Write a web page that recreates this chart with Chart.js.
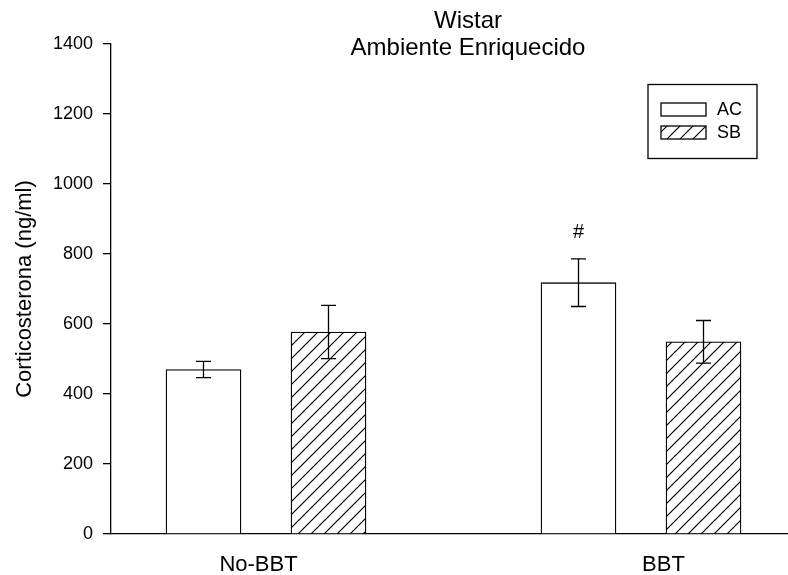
<!DOCTYPE html>
<html><head><meta charset="utf-8">
<script src="https://cdn.jsdelivr.net/npm/chart.js@4.4.1/dist/chart.umd.min.js"></script>
<style>html,body{margin:0;padding:0;background:#fff}#wrap{width:788px;height:575px}</style>
</head><body><div id="wrap"><canvas id="c" width="788" height="575"></canvas></div>
<script>
// ---- data ----
const categories = ["No-BBT", "BBT"];
const seriesNames = ["AC", "SB"];
const acValues = [470, 718];
const acErrors = [23, 68];
const sbValues = [577, 549];
const sbErrors = [76, 61];
const yTicks = [0, 200, 400, 600, 800, 1000, 1200, 1400];
const acMarks = ["", "#"];
const titleLines = ["Wistar", "Ambiente Enriquecido"];
const yTitle = "Corticosterona (ng/ml)";

// ---- layout constants ----
const FONT = "'Liberation Sans', Arial, sans-serif";
const GROUP_STEP = 3, HALF = 0.5;
const X_MIN = -1.24, X_MAX = 4.176;
const LABEL_POS = [-0.06, 3.18];

function makeHatch(step, lw) {
  const c = document.createElement('canvas');
  c.width = step; c.height = step;
  const g = c.getContext('2d');
  g.fillStyle = '#fff'; g.fillRect(0, 0, step, step);
  g.strokeStyle = '#000'; g.lineWidth = lw;
  g.beginPath();
  g.moveTo(-1, step + 1); g.lineTo(step + 1, -1);
  g.moveTo(-step / 2, step / 2); g.lineTo(step / 2, -step / 2);
  g.moveTo(step / 2, step * 1.5); g.lineTo(step * 1.5, step / 2);
  g.stroke();
  return g.createPattern(c, 'repeat');
}
const hatch = makeHatch(13, 1.2);

const errorBars = {
  id: 'errorBars',
  afterDatasetsDraw(chart) {
    const ctx = chart.ctx, ys = chart.scales.y;
    ctx.save();
    ctx.strokeStyle = '#000'; ctx.lineWidth = 1.3;
    chart.data.datasets.forEach((ds, di) => {
      const meta = chart.getDatasetMeta(di);
      meta.data.forEach((el, i) => {
        const v = ds.data[i].y, e = ds.errors[i];
        const yt = ys.getPixelForValue(v + e), yb = ys.getPixelForValue(v - e);
        ctx.beginPath();
        ctx.moveTo(el.x, yt); ctx.lineTo(el.x, yb);
        ctx.moveTo(el.x - 7.5, yt); ctx.lineTo(el.x + 7.5, yt);
        ctx.moveTo(el.x - 7.5, yb); ctx.lineTo(el.x + 7.5, yb);
        ctx.stroke();
        if (ds.marks && ds.marks[i]) {
          ctx.fillStyle = '#000';
          ctx.font = '20px ' + FONT;
          ctx.textAlign = 'center'; ctx.textBaseline = 'middle';
          ctx.fillText(ds.marks[i], el.x, yt - 26);
        }
      });
    });
    ctx.restore();
  }
};

const extras = {
  id: 'extras',
  afterDraw(chart) {
    const ctx = chart.ctx;
    ctx.save();
    ctx.fillStyle = '#000';
    ctx.font = '24px ' + FONT;
    ctx.textAlign = 'center'; ctx.textBaseline = 'alphabetic';
    ctx.fillText(titleLines[0], 468, 28);
    ctx.fillText(titleLines[1], 468, 55);
    // legend
    ctx.strokeStyle = '#000'; ctx.lineWidth = 1.3;
    ctx.strokeRect(648, 84.5, 109, 74);
    chart.data.datasets.forEach((ds, i) => {
      const y = 103 + i * 23;
      ctx.fillStyle = ds.backgroundColor;
      ctx.fillRect(661, y, 45, 13);
      ctx.strokeRect(661, y, 45, 13);
      ctx.fillStyle = '#000';
      ctx.font = '18px ' + FONT;
      ctx.textAlign = 'left'; ctx.textBaseline = 'middle';
      ctx.fillText(ds.label, 717, y + 7);
    });
    ctx.restore();
  }
};

new Chart(document.getElementById('c'), {
  type: 'bar',
  data: {
    datasets: [
      {
        label: seriesNames[0],
        data: acValues.map((v, i) => ({ x: i * GROUP_STEP - HALF, y: v })),
        errors: acErrors, marks: acMarks,
        backgroundColor: '#ffffff', borderColor: '#000', borderWidth: 1.3,
        grouped: false, barThickness: 75
      },
      {
        label: seriesNames[1],
        data: sbValues.map((v, i) => ({ x: i * GROUP_STEP + HALF, y: v })),
        errors: sbErrors,
        backgroundColor: hatch, borderColor: '#000', borderWidth: 1.3,
        grouped: false, barThickness: 75
      }
    ]
  },
  options: {
    responsive: false, animation: false, devicePixelRatio: 1,
    layout: { padding: { top: 44, right: 0, left: 0, bottom: 0 } },
    plugins: { legend: { display: false }, title: { display: false }, tooltip: { enabled: false } },
    scales: {
      x: {
        type: 'linear', min: X_MIN, max: X_MAX, offset: false,
        grid: { display: false, drawTicks: false, offset: false },
        border: { display: true, color: '#000', width: 1.3 },
        afterBuildTicks(s) { s.ticks = LABEL_POS.map(v => ({ value: v })); },
        afterFit(s) { s.height = 41; },
        ticks: {
          color: '#000', font: { family: FONT, size: 22 }, padding: 18,
          autoSkip: false, maxRotation: 0,
          callback: (v, i) => categories[i]
        }
      },
      y: {
        min: 0, max: 1400,
        grid: { display: true, drawOnChartArea: false, drawTicks: true, tickLength: 8, color: '#000', lineWidth: 1.3 },
        border: { display: true, color: '#000', width: 1.3 },
        afterBuildTicks(s) { s.ticks = yTicks.map(v => ({ value: v })); },
        afterFit(s) { s.width = 111; },
        ticks: { color: '#000', font: { family: FONT, size: 18 }, padding: 10, callback: v => String(v) },
        title: { display: true, text: yTitle, color: '#000', font: { family: FONT, size: 22 }, padding: { top: 12, bottom: 0 } }
      }
    }
  },
  plugins: [errorBars, extras]
});
</script></body></html>
